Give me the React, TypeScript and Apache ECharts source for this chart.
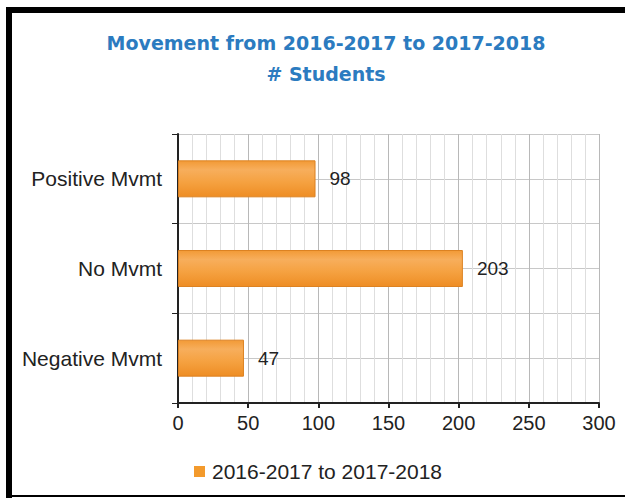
import React, { useEffect, useRef } from "react";
import * as echarts from "echarts";

const titleText = "Movement from 2016-2017 to 2017-2018";
const subtitleText = "# Students";
const categories = ["Positive Mvmt", "No Mvmt", "Negative Mvmt"];
const seriesName = "2016-2017 to 2017-2018";
const values = [98, 203, 47];
const xMin = 0;
const xMax = 300;
const xInterval = 50;

export default function App() {
  const ref = useRef<HTMLDivElement>(null);
  useEffect(() => {
    if (!ref.current) return;
    const chart = echarts.init(ref.current, null, { renderer: "svg" });
    chart.setOption({
      animation: false,
      backgroundColor: "#ffffff",
      title: {
        text: titleText + "\n" + subtitleText,
        left: 321,
        top: 22,
        textAlign: "center",
        textStyle: {
          fontFamily: "DejaVu Sans",
          fontWeight: "bold",
          fontSize: 19,
          color: "#2b7bc0",
          lineHeight: 31,
        },
      },
      legend: {
        left: 189,
        top: 456,
        icon: "rect",
        itemWidth: 11,
        itemHeight: 11,
        itemGap: 13,
        data: [{ name: seriesName, itemStyle: { color: "#f39a2c", borderWidth: 0 } }],
        textStyle: { fontFamily: "Liberation Sans", fontSize: 21, color: "#222", padding: [0, 0, 0, 2] },
      },
      grid: { left: 178, right: 26, top: 134, bottom: 95, containLabel: false },
      xAxis: {
        type: "value",
        min: xMin,
        max: xMax,
        interval: xInterval,
        axisLine: { show: true, lineStyle: { color: "#222", width: 2 } },
        axisTick: { show: true, length: 5, lineStyle: { color: "#222", width: 2 } },
        axisLabel: { fontFamily: "Liberation Sans", fontSize: 20, color: "#222", margin: 10 },
        splitLine: { show: true, lineStyle: { color: "#b8b8b8", width: 1 } },
        minorTick: { show: false, splitNumber: 5 },
        minorSplitLine: { show: true, lineStyle: { color: "#dedede", width: 1 } },
      },
      yAxis: [
        {
          type: "category",
          data: categories,
          inverse: true,
          axisLine: { show: true, lineStyle: { color: "#222", width: 2 } },
          axisTick: { show: true, length: 6, lineStyle: { color: "#222", width: 1 } },
          axisLabel: { fontFamily: "Liberation Sans", fontSize: 21, color: "#222", margin: 16 },
          splitLine: { show: false },
        },
        {
          type: "value",
          min: 0,
          max: 6,
          interval: 1,
          position: "left",
          axisLine: { show: false },
          axisTick: { show: false },
          axisLabel: { show: false },
          splitLine: { show: true, lineStyle: { color: "#c8c8c8", width: 1 } },
        },
      ],
      series: [
        {
          name: seriesName,
          type: "bar",
          yAxisIndex: 0,
          data: values,
          barWidth: 37,
          itemStyle: {
            color: new echarts.graphic.LinearGradient(0, 0, 0, 1, [
              { offset: 0, color: "#f29a36" },
              { offset: 0.25, color: "#f7ae5c" },
              { offset: 0.6, color: "#f5a140" },
              { offset: 1, color: "#ee8d24" },
            ]),
            borderColor: "#dc8222",
            borderWidth: 1,
          },
          label: {
            show: true,
            position: "right",
            distance: 14,
            fontFamily: "Liberation Sans",
            fontSize: 19,
            color: "#222",
          },
        },
      ],
      graphic: [
        { type: "rect", shape: { x: 6, y: 7, width: 6, height: 491 }, style: { fill: "#000" }, z: 100 },
        { type: "rect", shape: { x: 6, y: 7, width: 619, height: 6 }, style: { fill: "#000" }, z: 100 },
        { type: "rect", shape: { x: 6, y: 495, width: 619, height: 2 }, style: { fill: "#000" }, z: 100 },
      ],
    });
    return () => chart.dispose();
  }, []);
  return (
    <div
      ref={ref}
      style={{ position: "fixed", left: 0, top: 0, width: 625, height: 498 }}
    />
  );
}
